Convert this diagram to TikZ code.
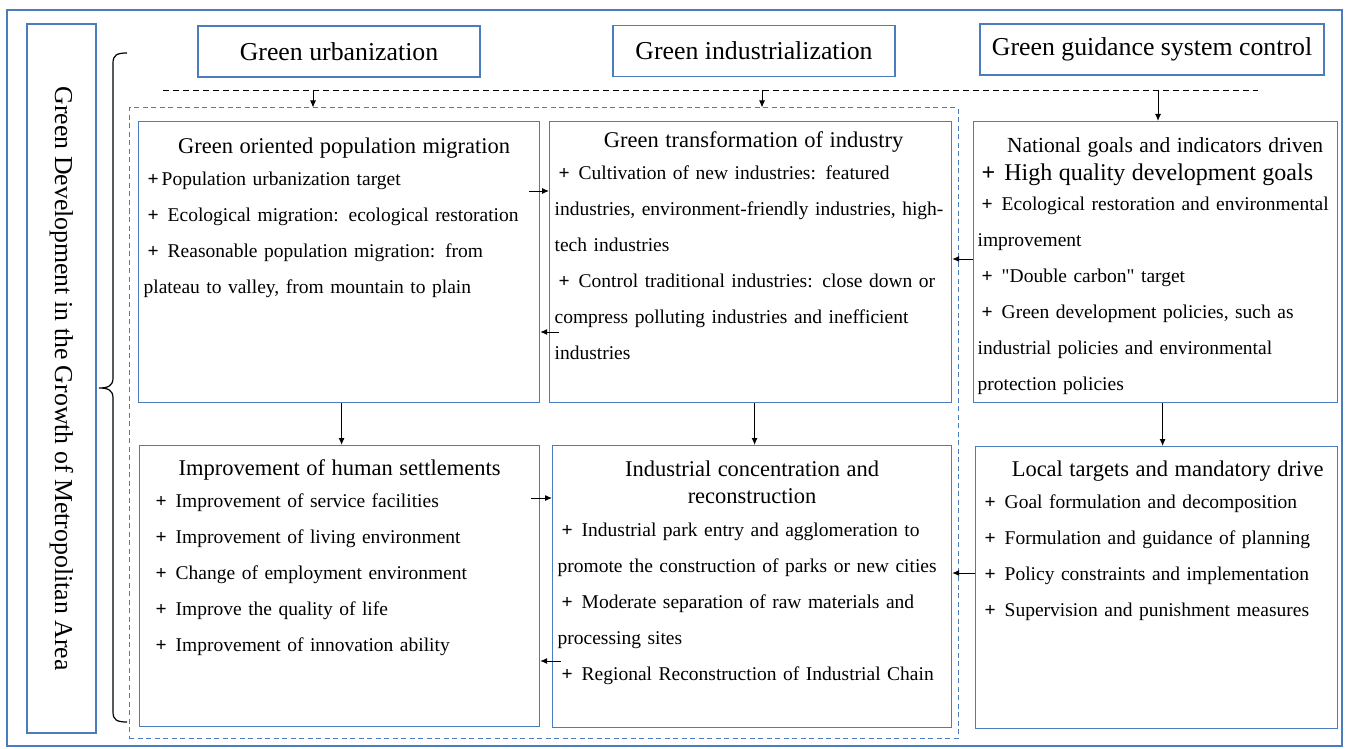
\documentclass[tikz,border=0pt]{standalone}
\usepackage{fontspec}
\setmainfont{Liberation Serif}
\usetikzlibrary{arrows.meta}
\definecolor{boxblue}{RGB}{74,124,190}
\newcommand{\plus}{\hspace*{4pt}\textbf{+}\hspace{9pt}}
\newcommand{\paneltitle}[2][-4pt]{{\centering\fontsize{22.5}{27}\selectfont #2\par}\vspace{#1}}
\begin{document}
\begin{tikzpicture}
    [x=1pt,y=-1pt,%%%%%%%%%%%%%%%%%%%%%%%%%%%%%%
        head/.style={draw=boxblue, line width=1.2pt, minimum height=51pt, font=\fontsize{25.8}{30}\selectfont},
        panel/.style={draw=boxblue, line width=1.2pt, anchor=north west, align=left, inner xsep=5pt, inner ysep=0pt, font=\fontsize{19.5}{36}\selectfont},
        group/.style={draw=boxblue, line width=1pt, dash pattern=on 5pt off 3.5pt},
        flow/.style={-{Latex[length=7pt,width=6pt]}, line width=1pt},
    ]%%%%%%%%%%%%%%%%%%%%%%%%%%%%%%
\useasboundingbox (0,0) rectangle (1346,749);
\draw[draw=boxblue, line width=1.2pt] (7,10) rectangle (1342,746);

\node[head, rotate=-90, minimum width=709pt, minimum height=69pt] (title) at (61.5,378.5) {Green Development in the Growth of Metropolitan Area};
\draw[line width=1.2pt] (127,53) .. controls (117,53) and (113,55) .. (113,63) -- (113,378)
    .. controls (113,386) and (108,388) .. (99,388) .. controls (108,388) and (113,390) .. (113,398)
    -- (113,712) .. controls (113,720) and (117,722) .. (127,722);

\node[head, minimum width=282pt] (urb) at (339,51.5) {Green urbanization};
\node[head, minimum width=282pt] (indz) at (754,51) {Green industrialization};
\node[head, minimum width=344pt] (guide) at (1152,49.5) {Green guidance system control};

\coordinate (dl) at (163,90);
\coordinate (dr) at (1258,90);
\draw[line width=0.9pt, dash pattern=on 6pt off 4pt] (dl) -- (dr);

\node[group, minimum width=829pt, minimum height=630pt] (grp) at (543.5,423) {};

% upper row
\node[panel, text width=391pt, text height=32pt, text depth=249pt] (mig) at (138,121) {%
    \paneltitle{\hspace*{10pt}Green oriented population migration}
    \hspace*{4pt}\textbf{+}\hspace{3pt}Population urbanization target\\
    \plus Ecological migration: ecological restoration\\
    \plus Reasonable population migration: from\\
    plateau to valley, from mountain to plain};
\node[panel, text width=392pt, text height=26pt, text depth=255pt] (ind) at (549,121) {%
    \paneltitle{\hspace*{6pt}Green transformation of industry}
    \plus Cultivation of new industries: featured\\
    industries, environment-friendly industries, high-\\
    tech industries\\
    \plus Control traditional industries: close down or\\
    compress polluting industries and inefficient\\
    industries};
\node[panel, inner xsep=4pt, text width=356pt, text height=31pt, text depth=250pt] (goal) at (973,121) {%
    {\centering\fontsize{21.5}{27}\selectfont\hspace*{19pt}National goals and indicators driven\par}
    {\fontsize{24}{28}\selectfont\plus High quality development goals\par}\vspace{-6pt}
    \plus Ecological restoration and environmental\\
    improvement\\
    \plus \textquotedbl Double carbon\textquotedbl{} target\\
    \plus Green development policies, such as\\
    industrial policies and environmental\\
    protection policies};

% lower row
\node[panel, inner xsep=12pt, text width=376pt, text height=30pt, text depth=251pt] (hab) at (139,445) {%
    \paneltitle{Improvement of human settlements}
    \plus Improvement of service facilities\\
    \plus Improvement of living environment\\
    \plus Change of employment environment\\
    \plus Improve the quality of life\\
    \plus Improvement of innovation ability};
\node[panel, text width=389pt, text height=31pt, text depth=251pt] (conc) at (552,445) {%
    \paneltitle[-3pt]{Industrial concentration and\\ reconstruction}
    \plus Industrial park entry and agglomeration to\\
    promote the construction of parks or new cities\\
    \plus Moderate separation of raw materials and\\
    processing sites\\
    \plus Regional Reconstruction of Industrial Chain};
\node[panel, text width=352pt, text height=30pt, text depth=252pt] (local) at (975,446) {%
    \paneltitle{\hspace*{22pt}Local targets and mandatory drive}
    \plus Goal formulation and decomposition\\
    \plus Formulation and guidance of planning\\
    \plus Policy constraints and implementation\\
    \plus Supervision and punishment measures};

% arrows
\coordinate (t1) at (313,90);
\coordinate (t2) at (762,90);
\coordinate (t3) at (1158,90);
\draw[flow] (t1) -- (t1 |- grp.north);
\draw[flow] (t2) -- (t2 |- grp.north);
\draw[flow] (t3) -- (t3 |- goal.north);

\draw[flow] ([xshift=-11pt,yshift=-70pt]mig.north east) -- ([yshift=-70pt]ind.north west);
\draw[flow] ([xshift=10pt,yshift=-211pt]ind.north west) -- ([yshift=-211pt]mig.north east);
\draw[flow] ([yshift=-138pt]goal.north west) -- ([yshift=-138pt]ind.north east);

\draw[flow] ([xshift=2.5pt]mig.south) -- ([xshift=2pt]hab.north);
\draw[flow] ([xshift=4pt]ind.south) -- ([xshift=2.5pt]conc.north);
\draw[flow] ([xshift=7pt]goal.south) -- ([xshift=6pt]local.north);

\draw[flow] ([xshift=-9pt,yshift=-53pt]hab.north east) -- ([yshift=-53pt]conc.north west);
\draw[flow] ([xshift=9pt,yshift=-216pt]conc.north west) -- ([yshift=-216pt]hab.north east);
\draw[flow] ([yshift=-127pt]local.north west) -- ([yshift=-128pt]conc.north east);

\end{tikzpicture}
\end{document}
